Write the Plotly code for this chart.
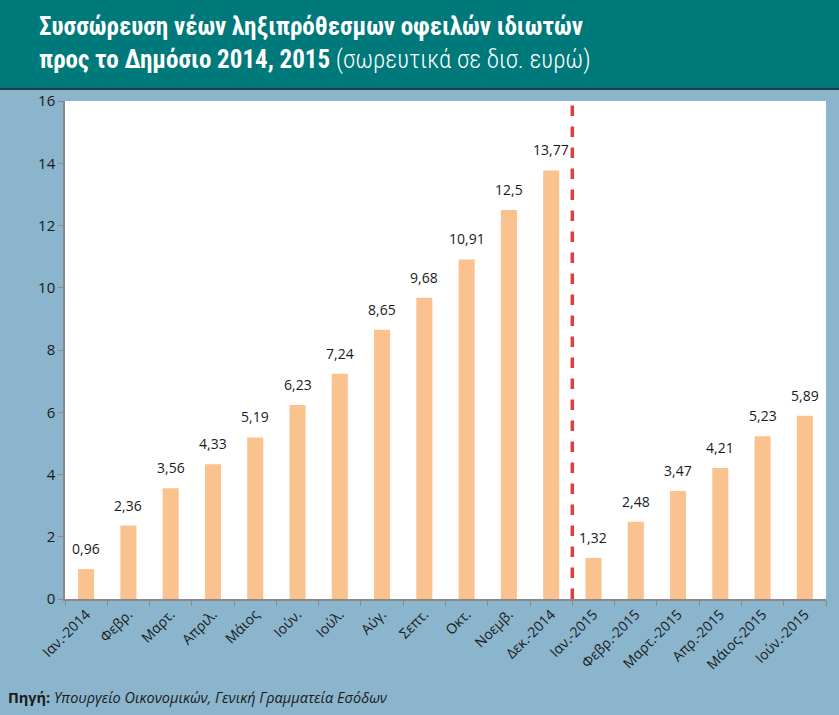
import plotly.graph_objects as go

months = ["Ιαν.-2014", "Φεβρ.", "Μαρτ.", "Απριλ.", "Μάιος", "Ιούν.", "Ιούλ.", "Αύγ.",
          "Σεπτ.", "Οκτ.", "Νοεμβ.", "Δεκ.-2014", "Ιαν.-2015", "Φεβρ.-2015",
          "Μαρτ.-2015", "Απρ.-2015", "Μάιος-2015", "Ιούν.-2015"]
arrears = [0.96, 2.36, 3.56, 4.33, 5.19, 6.23, 7.24, 8.65, 9.68, 10.91, 12.5, 13.77,
           1.32, 2.48, 3.47, 4.21, 5.23, 5.89]
labels = [str(v).replace(".", ",") for v in arrears]

fig = go.Figure(go.Bar(
    x=months,
    y=arrears,
    marker=dict(color="#F9C28F", line=dict(width=0)),
    hoverinfo="x+y",
))

# value labels above the bars
for m, v, t in zip(months, arrears, labels):
    fig.add_annotation(x=m, y=v, text=t, showarrow=False, yanchor="bottom",
                       yshift=9, font=dict(family="Open Sans", size=14, color="#1a1a1a"))

# red dashed divider between 2014 and 2015
fig.add_shape(type="line", xref="x", yref="y", x0=11.5, x1=11.5, y0=0, y1=16,
              line=dict(color="#D9413B", width=3.5, dash="dash"))

# teal header band
fig.add_shape(type="rect", xref="paper", yref="paper", x0=-0.1, x1=1.1,
              y0=1.0 + 12 / 498, y1=1.3, fillcolor="#00797A", line=dict(width=0), layer="below")
fig.add_shape(type="line", xref="paper", yref="paper", x0=-0.1, x1=1.1,
              y0=1.0 + 12 / 498, y1=1.0 + 12 / 498, line=dict(color="#1F3A48", width=2))

fig.add_annotation(xref="paper", yref="paper", x=-0.037, y=1.0 + 58 / 498, xanchor="left",
                   yanchor="middle", showarrow=False, align="left",
                   text="<b>Συσσώρευση νέων ληξιπρόθεσμων οφειλών ιδιωτών</b><br>"
                        "<b>προς το Δημόσιο 2014, 2015</b> "
                        "<span style='font-weight:300'>(σωρευτικά σε δισ. ευρώ)</span>",
                   font=dict(family="Roboto Condensed, Roboto", size=25, color="white"))

fig.add_annotation(xref="paper", yref="paper", x=-0.077, y=-98 / 498, xanchor="left",
                   yanchor="middle", showarrow=False, align="left",
                   text="<b>Πηγή:</b> <i>Υπουργείο Οικονομικών, Γενική Γραμματεία Εσόδων</i>",
                   font=dict(family="Open Sans", size=14.5, color="#1a1a1a"))

fig.update_layout(
    width=839, height=715,
    margin=dict(l=65, r=13, t=101, b=116),
    paper_bgcolor="#8AB5CC",
    plot_bgcolor="white",
    bargap=0.62,
    showlegend=False,
    font=dict(family="Open Sans", color="#1a1a1a"),
    xaxis=dict(tickangle=-45, tickson="boundaries", ticks="outside", ticklen=5,
               tickcolor="#888888", showline=True, linecolor="#888888", linewidth=1.5,
               tickfont=dict(size=14, color="#1a1a1a"), showgrid=False),
    yaxis=dict(range=[0, 16], dtick=2, ticks="outside", ticklen=5, tickcolor="#888888",
               showline=True, linecolor="#888888", linewidth=1.5, showgrid=False,
               zeroline=False, tickfont=dict(size=15, color="#1a1a1a")),
)

# drop the browser's default page margin so the figure sits at the window corner
fig.write_html("out.html", config={"displayModeBar": False},
               post_script="document.body.style.margin='0';")
